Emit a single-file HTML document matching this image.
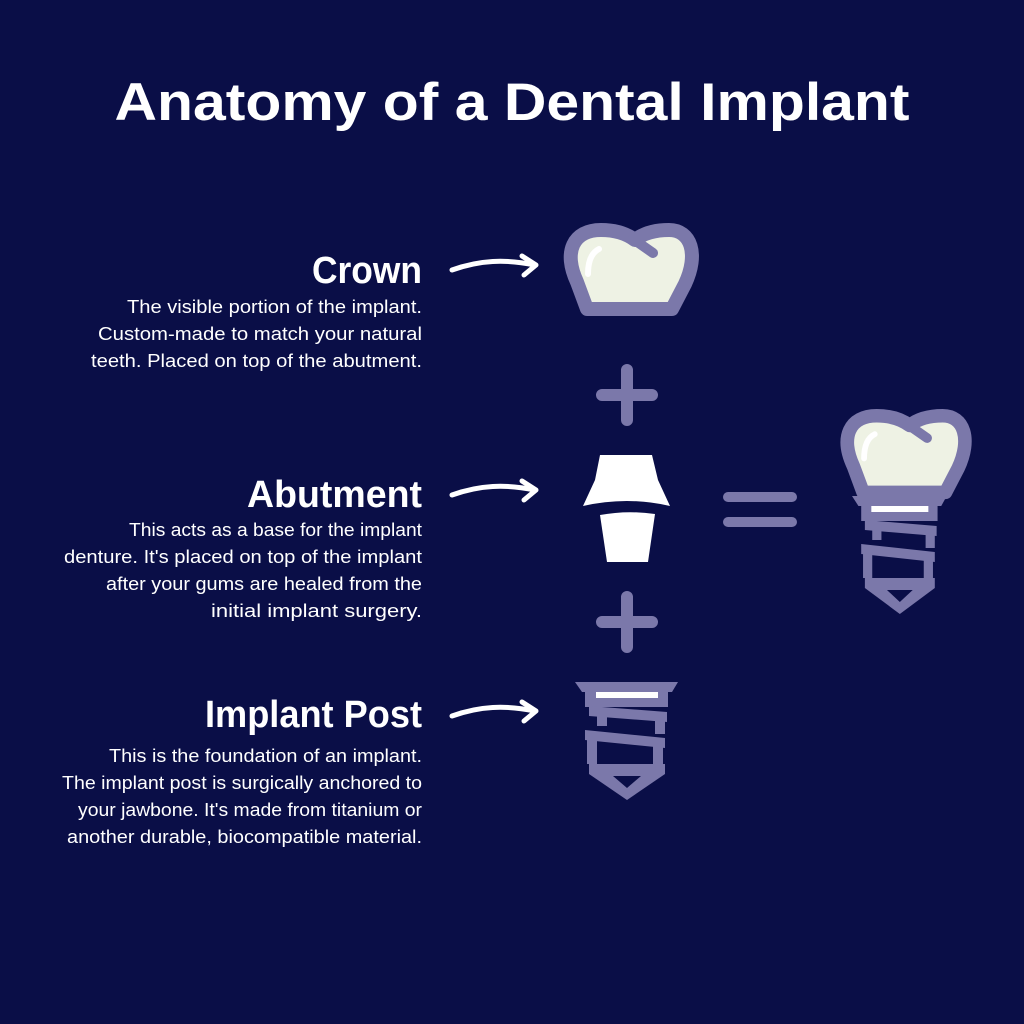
<!DOCTYPE html>
<html><head><meta charset="utf-8"><style>
html,body{margin:0;padding:0;background:#0a0e47;}
svg{display:block}
text{font-family:"Liberation Sans",sans-serif;fill:#fff}
</style></head><body>
<svg width="1024" height="1024" viewBox="0 0 1024 1024">
<defs>
<g id="crown">
  <path d="M20 60 C6 30 16 8 44 8 C60 8 70 12 78 18 C88 10 100 8 112 8 C134 8 142 32 128 62 L115 87 L30 87 Z" fill="#eef2e4" stroke="#7b78aa" stroke-width="14" stroke-linejoin="round"/>
  <path d="M76 17 L96 31" stroke="#7b78aa" stroke-width="10" stroke-linecap="round"/>
  <path d="M42 27 C34 31 31 40 31 52" stroke="#fff" stroke-width="6" fill="none" stroke-linecap="round"/>
</g>
<g id="post" fill="#7b78aa" stroke="none">
  <polygon points="0,0 103,0 97,10 7,10"/>
  <rect x="10" y="9" width="83" height="16"/>
  <rect x="21" y="10" width="62" height="6" fill="#fff"/>
  <polygon points="14,24 92,30 92,40 14,34"/>
  <rect x="80" y="30" width="10" height="22"/>
  <rect x="22" y="30" width="10" height="14"/>
  <polygon points="10,48 90,56 90,66 10,58"/>
  <rect x="12" y="56" width="10" height="26"/>
  <rect x="78" y="62" width="10" height="20"/>
  <polygon points="14,82 90,82 90,92 52,118 14,92"/>
  <polygon points="38,94 66,94 52,106" fill="#0a0e47"/>
</g>
</defs>

<text x="512" y="120" font-size="53" font-weight="bold" text-anchor="middle" textLength="795" lengthAdjust="spacingAndGlyphs">Anatomy of a Dental Implant</text>

<g text-anchor="end">
<text x="422" y="283" font-size="38" font-weight="bold" textLength="110" lengthAdjust="spacingAndGlyphs">Crown</text>
<g font-size="18">
<text x="422" y="313" textLength="295" lengthAdjust="spacingAndGlyphs">The visible portion of the implant.</text>
<text x="422" y="340" textLength="324" lengthAdjust="spacingAndGlyphs">Custom-made to match your natural</text>
<text x="422" y="367" textLength="331" lengthAdjust="spacingAndGlyphs">teeth. Placed on top of the abutment.</text>
</g>
<text x="422" y="507" font-size="38" font-weight="bold" textLength="175" lengthAdjust="spacingAndGlyphs">Abutment</text>
<g font-size="18">
<text x="422" y="536" textLength="293" lengthAdjust="spacingAndGlyphs">This acts as a base for the implant</text>
<text x="422" y="563" textLength="358" lengthAdjust="spacingAndGlyphs">denture. It's placed on top of the implant</text>
<text x="422" y="590" textLength="316" lengthAdjust="spacingAndGlyphs">after your gums are healed from the</text>
<text x="422" y="617" textLength="211" lengthAdjust="spacingAndGlyphs">initial implant surgery.</text>
</g>
<text x="422" y="727" font-size="38" font-weight="bold" textLength="217" lengthAdjust="spacingAndGlyphs">Implant Post</text>
<g font-size="18">
<text x="422" y="762" textLength="313" lengthAdjust="spacingAndGlyphs">This is the foundation of an implant.</text>
<text x="422" y="789" textLength="360" lengthAdjust="spacingAndGlyphs">The implant post is surgically anchored to</text>
<text x="422" y="816" textLength="344" lengthAdjust="spacingAndGlyphs">your jawbone. It's made from titanium or</text>
<text x="422" y="843" textLength="355" lengthAdjust="spacingAndGlyphs">another durable, biocompatible material.</text>
</g>
</g>

<g stroke="#fff" stroke-width="5" fill="none" stroke-linecap="round" stroke-linejoin="round">
<path d="M452 270 C480 260 505 259 535 265"/><path d="M522 256 L536 265 L524 275"/>
<path d="M452 495 C480 485 505 484 535 490"/><path d="M522 481 L536 490 L524 500"/>
<path d="M452 716 C480 706 505 705 535 711"/><path d="M522 702 L536 711 L524 721"/>
</g>

<use href="#crown" transform="translate(557,222)"/>
<g stroke="#7b78aa" stroke-width="12" stroke-linecap="round">
<path d="M627 370 V420 M602 395 H652"/>
<path d="M627 597 V647 M602 622 H652"/>
<path d="M728 497 H792 M728 522 H792" stroke-width="10"/>
</g>
<path d="M600 455 L652 455 L658 480 L670 506 Q627 496 583 506 L595 480 Z" fill="#fff"/>
<path d="M600 515 Q627 510 655 514 L648 562 L607 562 Z" fill="#fff"/>
<use href="#post" transform="translate(575,682)"/>

<use href="#crown" transform="translate(834,408) scale(0.97)"/>
<use href="#post" transform="translate(852,496) scale(0.92,1)"/>
</svg>
</body></html>
